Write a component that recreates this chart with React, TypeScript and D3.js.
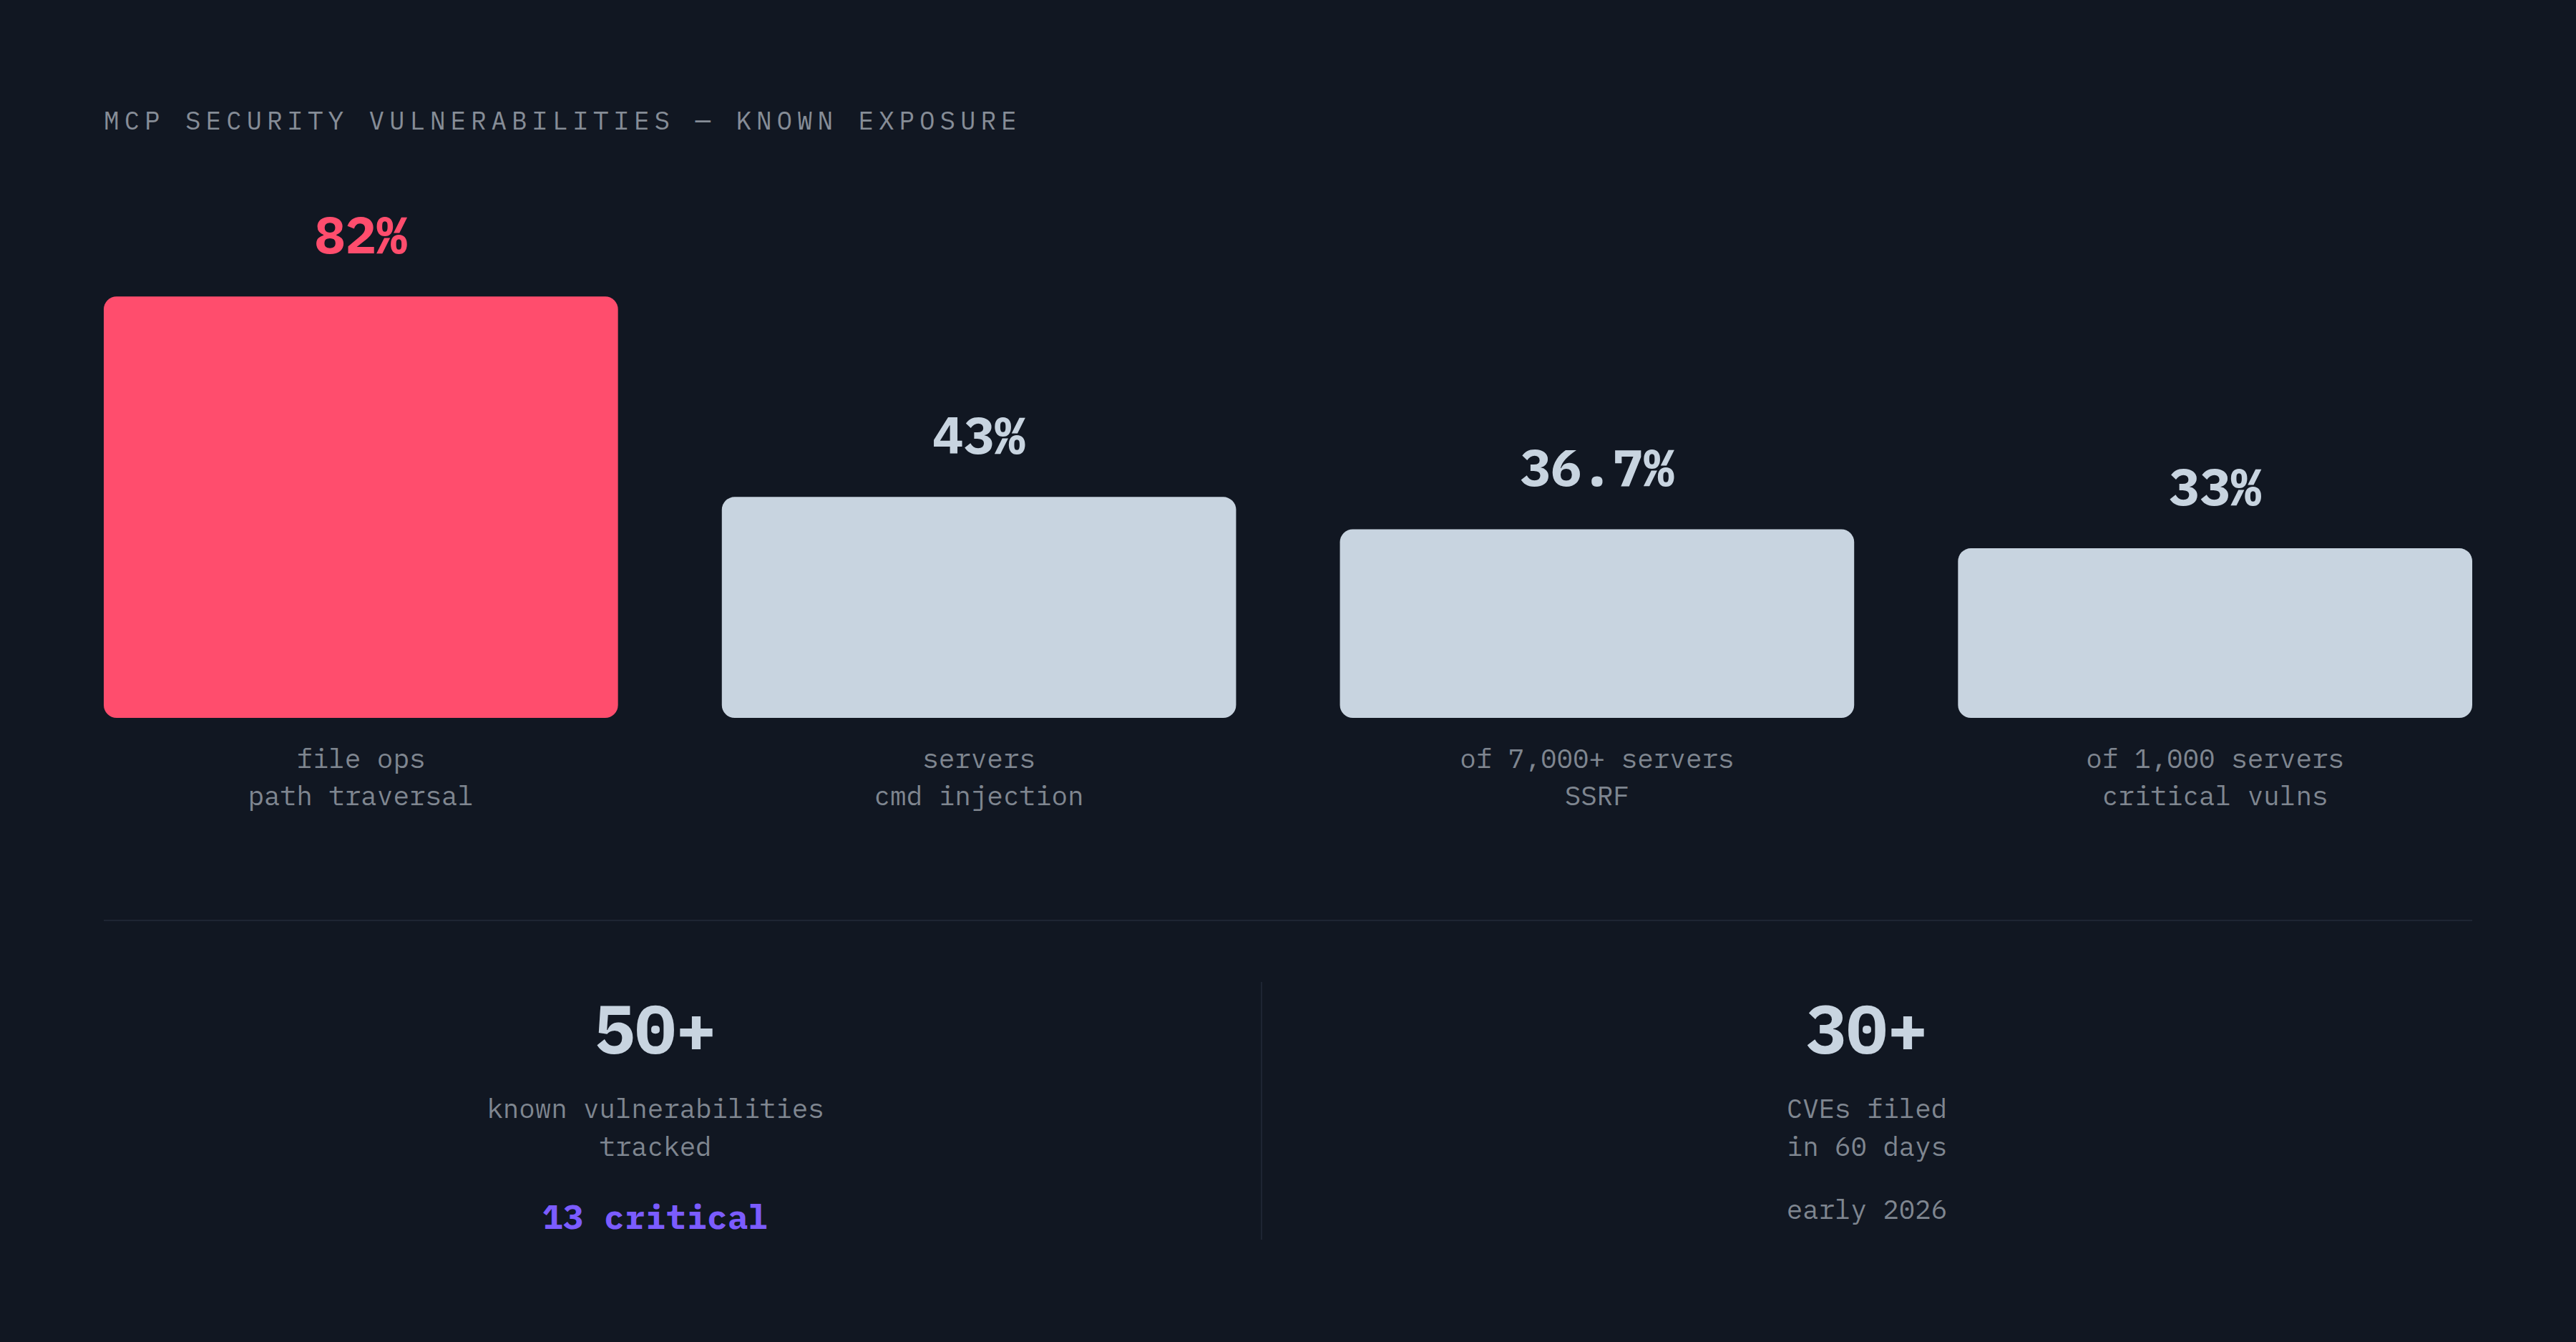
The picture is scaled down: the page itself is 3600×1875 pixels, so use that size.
import React from 'react';
import * as d3 from 'd3';

const title = 'MCP SECURITY VULNERABILITIES — KNOWN EXPOSURE';
const categories = ['path traversal', 'cmd injection', 'SSRF', 'critical vulns'];
const subLabels = ['file ops', 'servers', 'of 7,000+ servers', 'of 1,000 servers'];
const values = [82, 43, 36.7, 33];
const valueLabels = ['82%', '43%', '36.7%', '33%'];
const highlighted = ['path traversal'];

const statValues = ['50+', '30+'];
const statLine1 = ['known vulnerabilities', 'CVEs filed'];
const statLine2 = ['tracked', 'in 60 days'];
const statNotes = ['13 critical', 'early 2026'];
const statNoteAccent = [true, false];

const W = 3600;
const H = 1875;
const BG = '#111722';
const RED = '#ff4d6d';
const LIGHT = '#c8d4e0';
const GRAY = '#7f8690';
const PURPLE = '#7b5cff';
const FONT = '"IBM Plex Mono", "DejaVu Sans Mono", "Liberation Mono", monospace';

export default function App() {
  const x = d3.scaleBand<string>().domain(categories).range([145, 3455]).paddingInner(0.168).paddingOuter(0);
  const y = d3.scaleLinear().domain([0, 100]).range([1003, 285]);
  const statX = d3.scalePoint<string>().domain(statValues).range([916, 2609]);

  return (
    <svg
      width={W}
      height={H}
      viewBox={`0 0 ${W} ${H}`}
      style={{ position: 'fixed', left: 0, top: 0, display: 'block', background: BG }}
    >
      <rect x={0} y={0} width={W} height={H} fill={BG} />
      <text x={145} y={181} fill="#868d97" fontFamily={FONT} fontSize={36} letterSpacing={6.9}>
        {title}
      </text>

      {categories.map((c, i) => {
        const bx = x(c)!;
        const bw = x.bandwidth();
        const top = y(values[i]);
        const isHi = highlighted.includes(c);
        const cx = bx + bw / 2;
        return (
          <g key={c}>
            <rect x={bx} y={top} width={bw} height={y(0) - top} rx={18} ry={18} fill={isHi ? RED : LIGHT} />
            <text
              x={cx}
              y={top - 60}
              textAnchor="middle"
              fill={isHi ? RED : LIGHT}
              fontFamily={FONT}
              fontWeight={700}
              fontSize={72}
            >
              {valueLabels[i]}
            </text>
            <text x={cx} y={1073} textAnchor="middle" fill={GRAY} fontFamily={FONT} fontSize={37.6}>
              {subLabels[i]}
            </text>
            <text x={cx} y={1125} textAnchor="middle" fill={GRAY} fontFamily={FONT} fontSize={37.6}>
              {c}
            </text>
          </g>
        );
      })}

      <line x1={145} x2={3455} y1={1286} y2={1286} stroke="#1e2533" strokeWidth={2} />
      <line x1={1763} x2={1763} y1={1372} y2={1732} stroke="#1e2533" strokeWidth={2} />

      {statValues.map((s, i) => {
        const cx = statX(s)!;
        return (
          <g key={s}>
            <text x={cx} y={1472} textAnchor="middle" fill={LIGHT} fontFamily={FONT} fontWeight={700} fontSize={95}>
              {s}
            </text>
            <text x={cx} y={1562} textAnchor="middle" fill={GRAY} fontFamily={FONT} fontSize={37.4}>
              {statLine1[i]}
            </text>
            <text x={cx} y={1615} textAnchor="middle" fill={GRAY} fontFamily={FONT} fontSize={37.4}>
              {statLine2[i]}
            </text>
            {statNoteAccent[i] ? (
              <text x={cx} y={1717} textAnchor="middle" fill={PURPLE} fontFamily={FONT} fontWeight={700} fontSize={48}>
                {statNotes[i]}
              </text>
            ) : (
              <text x={cx} y={1703} textAnchor="middle" fill={GRAY} fontFamily={FONT} fontSize={37.4}>
                {statNotes[i]}
              </text>
            )}
          </g>
        );
      })}
    </svg>
  );
}
